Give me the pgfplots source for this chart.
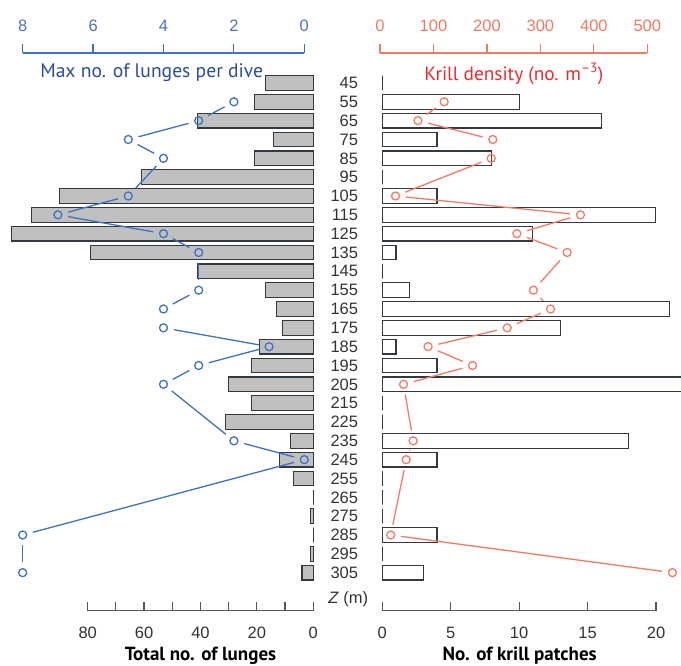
\documentclass[border=0pt]{standalone}
\usepackage{fontspec}
\setmainfont{Liberation Sans}
\newfontfamily\titlefont{PT Sans}
\usepackage{pgfplots}
\pgfplotsset{compat=1.18}
\definecolor{barfill}{HTML}{C0C0C0}
\definecolor{barline}{HTML}{333A3F}
\definecolor{bluept}{HTML}{3D72C6}
\definecolor{bluetitle}{HTML}{2B4C9E}
\definecolor{bluetick}{HTML}{4A72C4}
\definecolor{redpt}{HTML}{F47A64}
\definecolor{redtitle}{HTML}{EE2A2F}
\definecolor{redtick}{HTML}{F47763}
\definecolor{axgray}{HTML}{555555}
\definecolor{labgray}{HTML}{333333}
\newcommand{\tickfont}{\fontsize{16.5}{18}\selectfont}
\pgfplotsset{
  base/.style={scale only axis, anchor=center, height=557.7pt,
    /pgf/number format/assume math mode=true,
    ticklabel style={font=\tickfont, inner sep=0pt}},
  data/.style={base, y dir=reverse, ymin=29.07, ymax=325.2},
  tickax/.style={base, ymin=0, ymax=1, axis y line=none,
    axis line style={-}, every tick/.append style={line width=1.2pt}},
}
\newcommand{\bseg}[4]{\addplot[bluept, line width=1.3pt, shorten <=10.5pt, shorten >=10.5pt] coordinates {(#1,#2) (#3,#4)};}
\newcommand{\rseg}[4]{\addplot[redpt, line width=1.3pt, shorten <=10.5pt, shorten >=10.5pt] coordinates {(#1,#2) (#3,#4)};}
\begin{document}
\begin{tikzpicture}[x=1pt,y=1pt]
\useasboundingbox (0,0) rectangle (681,666);
% ---------- left: bars (total no. of lunges)
\begin{axis}[data, at={(156.65pt,334.15pt)}, width=313.3pt,
  x dir=reverse, xmin=0, xmax=111.1, hide axis, clip=false,
  xbar, bar width=14.6pt]
\addplot[fill=barfill, draw=barline, line width=1.1pt] coordinates {
(17,45) (21,55) (41,65) (14,75) (21,85) (61,95) (90,105) (100,115) (107,125)
(79,135) (41,145) (17,155) (13,165) (11,175) (19,185) (22,195) (30,205)
(22,215) (31,225) (8,235) (12,245) (7,255) (0,265) (1,275) (0,285) (1,295) (4,305)};
\end{axis}
% bottom axis left
\begin{axis}[tickax, at={(200.5pt,334.15pt)}, width=225.6pt,
  x dir=reverse, xmin=0, xmax=80, axis x line*=bottom,
  xtick={0,20,...,80}, minor xtick={10,30,50,70},
  tick align=inside, major tick length=9pt, minor tick length=9pt,
  x axis line style={draw=axgray, line width=1.2pt},
  every tick/.append style={axgray},
  xticklabel style={text=labgray}, xticklabel shift=16pt]
\end{axis}
% top axis left
\begin{axis}[tickax, at={(163.5pt,334.15pt)}, width=281.6pt,
  x dir=reverse, xmin=0, xmax=8, axis x line*=top,
  xtick={0,2,...,8}, tick align=outside, major tick length=9pt,
  x axis line style={draw=bluept, line width=1.2pt},
  every tick/.append style={bluept},
  xticklabel style={text=bluetick}, xticklabel shift=12pt]
\end{axis}
% blue points
\begin{axis}[data, at={(163.5pt,334.15pt)}, width=281.6pt,
  x dir=reverse, xmin=0, xmax=8, hide axis, clip=false]
\bseg{2}{55}{3}{65}
\bseg{3}{65}{5}{75}
\bseg{5}{75}{4}{85}
\bseg{4}{85}{5}{105}
\bseg{5}{105}{7}{115}
\bseg{7}{115}{4}{125}
\bseg{4}{125}{3}{135}
\bseg{3}{135}{3}{155}
\bseg{3}{155}{4}{165}
\bseg{4}{175}{1}{185}
\bseg{1}{185}{3}{195}
\bseg{3}{195}{4}{205}
\bseg{4}{205}{2}{235}
\bseg{2}{235}{0}{245}
\bseg{0}{245}{8}{285}
\bseg{8}{285}{8}{305}
\addplot[only marks, mark=o, mark size=4pt, bluept, line width=1.3pt] coordinates {
(2,55) (3,65) (5,75) (4,85) (5,105) (7,115) (4,125) (3,135) (3,155) (4,165)
(4,175) (1,185) (3,195) (4,205) (2,235) (0,245) (8,285) (8,305)};
\end{axis}
% ---------- right: bars (krill patches)
\begin{axis}[data, at={(529.6pt,334.15pt)}, width=302.8pt,
  xmin=-0.3, xmax=21.835, hide axis, clip=true,
  xbar, bar width=14.6pt]
\addplot[fill=white, draw=barline, line width=1.1pt] coordinates {
(0,45) (10,55) (16,65) (4,75) (8,85) (0,95) (4,105) (20,115) (11,125) (1,135)
(0,145) (2,155) (21,165) (13,175) (1,185) (4,195) (25,205) (0,215) (0,225)
(18,235) (4,245) (0,255) (0,265) (0,275) (4,285) (0,295) (3,305)};
\end{axis}
% bottom axis right
\begin{axis}[tickax, at={(519.15pt,334.15pt)}, width=273.7pt,
  xmin=0, xmax=20, axis x line*=bottom,
  xtick={0,5,...,20},
  tick align=inside, major tick length=9pt,
  x axis line style={draw=axgray, line width=1.2pt},
  every tick/.append style={axgray},
  xticklabel style={text=labgray}, xticklabel shift=16pt]
\end{axis}
% top axis right
\begin{axis}[tickax, at={(513.65pt,334.15pt)}, width=267.3pt,
  xmin=0, xmax=500, axis x line*=top,
  xtick={0,100,...,500}, tick align=outside, major tick length=9pt,
  x axis line style={draw=redpt, line width=1.2pt},
  every tick/.append style={redpt},
  xticklabel style={text=redtick}, xticklabel shift=12pt]
\end{axis}
% red points
\begin{axis}[data, at={(513.65pt,334.15pt)}, width=267.3pt,
  xmin=0, xmax=500, hide axis, clip=false]
\rseg{120}{55}{71}{65}
\rseg{71}{65}{211}{75}
\rseg{208}{85}{29}{105}
\rseg{29}{105}{375}{115}
\rseg{375}{115}{256}{125}
\rseg{256}{125}{350}{135}
\rseg{350}{135}{287}{155}
\rseg{287}{155}{319}{165}
\rseg{319}{165}{238}{175}
\rseg{238}{175}{90}{185}
\rseg{90}{185}{173}{195}
\rseg{173}{195}{44}{205}
\rseg{44}{205}{62}{235}
\rseg{62}{235}{49}{245}
\rseg{49}{245}{20}{285}
\rseg{20}{285}{547}{305}
\addplot[only marks, mark=o, mark size=4pt, redpt, line width=1.3pt] coordinates {
(120,55) (71,65) (211,75) (208,85) (29,105) (375,115) (256,125) (350,135)
(287,155) (319,165) (238,175) (90,185) (173,195) (44,205) (62,235) (49,245)
(20,285) (547,305)};
\end{axis}
% ---------- category labels
\begin{axis}[data, at={(363.3pt,334.15pt)}, width=10pt, xmin=0, xmax=1,
  axis x line=none, axis y line*=left, axis line style={draw=none, -},
  ytick={45,55,...,305}, major tick length=0pt, ytick style={draw=none},
  yticklabel style={text=labgray, anchor=east}, yticklabel shift=0pt]
\end{axis}
% ---------- titles
\node[anchor=base, text=bluetitle, font=\titlefont\fontsize{19.6}{24}\selectfont] at (151.7,588.7) {Max no. of lunges per dive};
\node[anchor=base, text=redtitle, font=\titlefont\fontsize{19.3}{24}\selectfont] at (513.8,585.5) {Krill density (no. m\textsuperscript{–3})};
\node[anchor=base, text=black, font=\titlefont\bfseries\fontsize{19}{22}\selectfont] at (200.5,5.5) {Total no. of lunges};
\node[anchor=base, text=black, font=\titlefont\bfseries\fontsize{19}{22}\selectfont] at (519.7,5.5) {No. of krill patches};
\node[anchor=base, text=labgray, font=\tickfont] at (348.3,62.7) {\textit{Z} (m)};
\end{tikzpicture}
\end{document}
